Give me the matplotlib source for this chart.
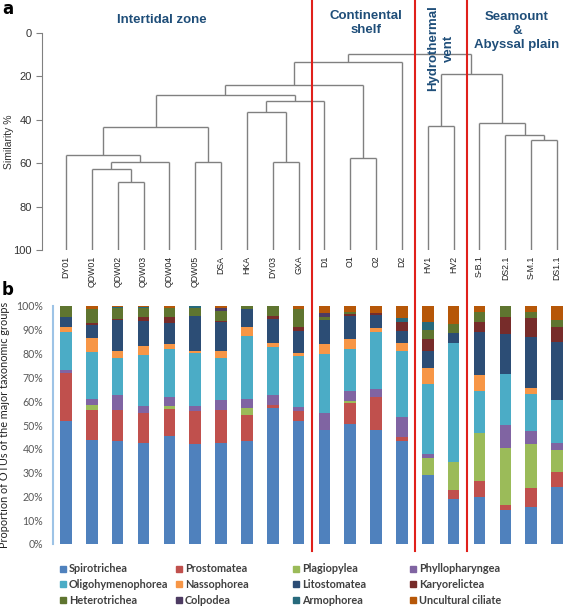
import matplotlib
matplotlib.use('Agg')
import matplotlib.pyplot as plt
from matplotlib.lines import Line2D
from matplotlib.patches import Rectangle
import numpy as np

# sample order along the dendrogram / bar chart
samples = ['DY01', 'QDW01', 'QDW02', 'QDW03', 'QDW04', 'QDW05', 'DSA', 'HKA', 'DY03', 'GXA',
           'D1', 'O1', 'O2', 'D2', 'HV1', 'HV2', 'S-B.1', 'DS2.1', 'S-M.1', 'DS1.1']

# cluster merges: (left, right, similarity %), new cluster id = 20 + index
merges = [
    (2, 3, 68.5), (1, 20, 62.9), (21, 4, 59.4), (0, 22, 56.0),
    (5, 6, 59.4), (23, 24, 43.4), (8, 9, 59.4), (7, 26, 36.3),
    (27, 10, 31.3), (25, 28, 28.4), (11, 12, 57.8), (29, 30, 24.1),
    (31, 13, 13.3), (14, 15, 42.8), (18, 19, 49.4), (17, 34, 47.1),
    (16, 35, 41.4), (33, 36, 18.7), (32, 37, 9.5),
]

taxa = ['Spirotrichea', 'Prostomatea', 'Plagiopylea', 'Phyllopharyngea',
        'Oligohymenophorea', 'Nassophorea', 'Litostomatea', 'Karyorelictea',
        'Heterotrichea', 'Colpodea', 'Armophorea', 'Uncultural ciliate']
colors = ['#4F81BD', '#C0504D', '#9BBB59', '#8064A2', '#4BACC6', '#F79646',
          '#2C4D75', '#772C2A', '#5F7530', '#4D3B62', '#276A7C', '#B65708']

spirotrichea = [51.7, 43.6, 43.2, 42.4, 45.2, 42.1, 42.4, 43.1, 57.3, 51.5, 47.7, 50.5, 48.0, 43.1, 29.1, 19.0, 19.7, 14.1, 15.5, 23.9]
prostomatea = [20.0, 12.8, 12.7, 12.6, 11.4, 13.6, 14.0, 11.2, 1.2, 4.4, 0, 8.7, 13.7, 1.8, 0, 3.8, 6.9, 2.4, 8.0, 6.3]
plagiopylea = [0, 1.8, 0, 0, 1.2, 0, 0, 2.8, 0, 0, 0, 0.7, 0, 0, 7.0, 11.6, 20.0, 23.8, 18.6, 9.1]
phyllopharyngea = [1.2, 2.8, 6.5, 2.8, 3.9, 2.3, 4.2, 3.7, 4.2, 1.6, 7.3, 4.2, 3.5, 8.4, 1.8, 0, 0, 9.8, 5.2, 3.1]
oligohymenophorea = [16.1, 19.8, 15.4, 21.6, 20.3, 22.1, 17.7, 26.8, 20.2, 21.5, 24.9, 17.9, 23.8, 27.8, 29.4, 50.2, 17.7, 21.4, 15.8, 18.2]
nassophorea = [2.3, 5.6, 3.0, 4.0, 1.9, 1.2, 2.8, 3.4, 1.4, 1.4, 4.2, 4.0, 1.9, 3.5, 6.8, 0, 6.7, 0, 2.6, 0]
litostomatea = [3.9, 5.6, 12.9, 10.3, 8.8, 14.6, 12.3, 7.7, 10.2, 9.3, 10.0, 9.8, 5.3, 5.1, 7.0, 3.9, 17.9, 16.8, 21.2, 24.4]
karyorelictea = [0, 1.0, 0.5, 1.5, 2.8, 0, 0.5, 0, 1.4, 1.3, 0, 0.8, 0.7, 3.4, 5.1, 0, 4.5, 6.9, 7.9, 6.0]
heterotrichea = [4.8, 5.6, 4.3, 3.8, 3.5, 3.1, 4.2, 1.3, 4.1, 7.7, 1.4, 0.7, 0, 0, 3.7, 3.9, 4.2, 4.8, 2.8, 3.1]
colpodea = [0, 0, 0, 0, 0, 0, 1.0, 0, 0, 0, 1.5, 0, 0, 0, 0, 0, 0, 0, 0, 0]
armophorea = [0, 0, 0.4, 0.4, 0, 1.0, 0, 0, 0, 0, 0, 0, 0, 1.7, 3.2, 0, 0, 0, 0, 0]
uncultural = [0, 1.4, 0.6, 0.6, 1.0, 0, 0.9, 0, 0, 1.3, 3.0, 2.7, 3.1, 5.2, 6.9, 7.6, 2.4, 0, 2.4, 5.9]

series = [spirotrichea, prostomatea, plagiopylea, phyllopharyngea, oligohymenophorea,
          nassophorea, litostomatea, karyorelictea, heterotrichea, colpodea,
          armophorea, uncultural]

# group boundaries (between sample indices)
boundaries = [9.5, 13.5, 15.5]

W, H = 567, 608


def fx(px):
    return px / W


def fy(py):
    return 1 - py / H


fig = plt.figure(figsize=(W / 100, H / 100), dpi=100)

# x mapping shared by both panels: leaf 0 at 66px, leaf 19 at 557px
scale = (557 - 66) / 19
xmin = -(66 - 42) / scale
xmax = 19 + (564 - 557) / scale
ax_w = 564 - 42

# ---------- panel a: dendrogram ----------
ax_a = fig.add_axes([fx(42), fy(250), fx(564) - fx(42), fy(33) - fy(250)])
line_kw = dict(color='#808080', lw=1.0, solid_capstyle='butt')
pos = {i: float(i) for i in range(len(samples))}
hgt = {i: 100.0 for i in range(len(samples))}
for k, (a, b, s) in enumerate(merges):
    for c in (a, b):
        ax_a.plot([pos[c], pos[c]], [hgt[c], s], **line_kw)
    ax_a.plot([pos[a], pos[b]], [s, s], **line_kw)
    pos[len(samples) + k] = (pos[a] + pos[b]) / 2
    hgt[len(samples) + k] = s

ax_a.set_xlim(xmin, xmax)
ax_a.set_ylim(100, 0)
for sp in ['top', 'right', 'bottom']:
    ax_a.spines[sp].set_visible(False)
ax_a.spines['left'].set_color('#808080')
ax_a.set_yticks([0, 20, 40, 60, 80, 100])
ax_a.set_xticks(range(len(samples)))
ax_a.set_xticklabels(samples, rotation=90)
ax_a.tick_params(axis='x', length=0, pad=4, labelsize=6.3, labelcolor='#222222',
                 labelfontfamily='Liberation Sans')
ax_a.tick_params(axis='y', length=4, color='#808080', labelsize=8, labelcolor='#333333',
                 labelfontfamily='Liberation Sans')
ax_a.set_ylabel('Similarity %', fontsize=7.5, family='Liberation Sans', color='#333333')
ax_a.yaxis.set_label_coords((14 - 42) / ax_w, 0.5)

# ---------- panel b: stacked bars ----------
ax_b = fig.add_axes([fx(42), fy(544), fx(564) - fx(42), fy(306) - fy(544)])
for sp in ['top', 'right', 'bottom']:
    ax_b.spines[sp].set_visible(False)
ax_b.spines['left'].set_position(('data', -0.5))
ax_b.spines['left'].set_color('#9DC3E6')
ax_b.spines['left'].set_linewidth(1.5)

data = np.array(series, dtype=float)
data = data / data.sum(axis=0) * 100
x = np.arange(len(samples))
bottom = np.zeros(len(samples))
for vals, c, name in zip(data, colors, taxa):
    ax_b.bar(x, vals, width=0.45, bottom=bottom, color=c, edgecolor='none', label=name)
    bottom += vals

ax_b.set_xlim(xmin, xmax)
ax_b.set_ylim(0, 100)
ax_b.set_yticks(np.arange(0, 101, 10))
ax_b.set_yticklabels([f'{v}%' for v in range(0, 101, 10)])
ax_b.set_xticks([])
ax_b.tick_params(axis='y', length=0, pad=7, labelsize=7.6, labelcolor='#595959',
                 labelfontfamily='Lato')
ax_b.set_ylabel('Proportion of OTUs of the major taxonomic groups', family='Lato',
                fontsize=7.8, color='#222222')
ax_b.yaxis.set_label_coords((10 - 42) / ax_w, 0.5)

# ---------- red separators across both panels ----------
inv = fig.transFigure.inverted()
for xb in boundaries:
    xf = inv.transform(ax_b.transData.transform((xb, 0)))[0]
    fig.add_artist(Line2D([xf, xf], [fy(1), fy(551)], color='#E0201B', lw=1.5))

# ---------- group titles ----------
title_kw = dict(family='Liberation Sans', fontweight='bold', fontsize=9.5, color='#1F4E79',
                ha='center', va='center')
fig.text(fx(162), fy(20), 'Intertidal zone', **title_kw)
fig.text(fx(366), fy(23), 'Continental\nshelf', linespacing=1.25, **title_kw)
fig.text(fx(441), fy(48), 'Hydrothermal\nvent', rotation=90, linespacing=1.4, **title_kw)
fig.text(fx(517), fy(31), 'Seamount\n&\nAbyssal plain', linespacing=1.25, **title_kw)

fig.text(fx(8), fy(9), 'a', fontsize=12, fontweight='bold', ha='center', va='center')
fig.text(fx(8), fy(290), 'b', fontsize=12, fontweight='bold', ha='center', va='center')

# ---------- legend (4 columns, row-wise) ----------
col_x = [60, 176, 293, 410]
row_y = [569, 584, 600]
for i, (name, c) in enumerate(zip(taxa, colors)):
    r, k = divmod(i, 4)
    fig.add_artist(Rectangle((fx(col_x[k]), fy(row_y[r] + 3)), 6 / W, 6 / H,
                             transform=fig.transFigure, color=c))
    fig.text(fx(col_x[k] + 9), fy(row_y[r]), name, family='Lato', fontweight='bold',
             fontsize=7.8, color='#404040', ha='left', va='center')

fig.savefig('out.png', dpi=100)
plt.close(fig)
